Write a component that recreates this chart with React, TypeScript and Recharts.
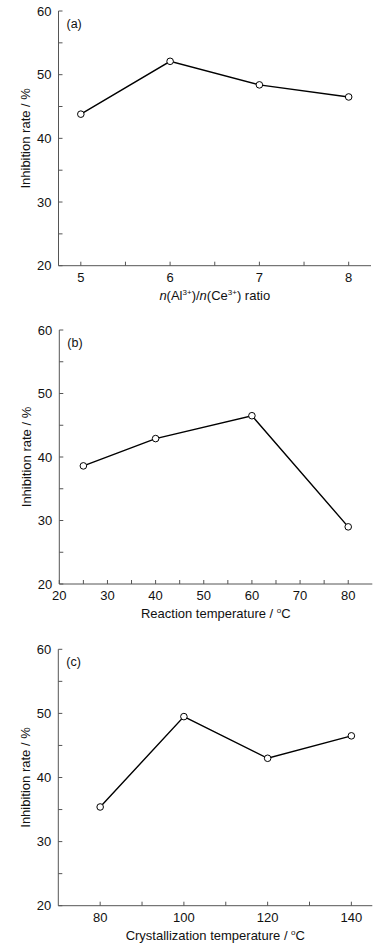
import { Line, LineChart, XAxis, YAxis } from 'recharts';

const ratioX = [5, 6, 7, 8];
const ratioRate = [43.8, 52.1, 48.4, 46.5];
const ratioTicks = [5, 5.5, 6, 6.5, 7, 7.5, 8];
const ratioLabels = [5, 6, 7, 8];

const reactionX = [25, 40, 60, 80];
const reactionRate = [38.6, 42.9, 46.5, 29.0];
const reactionTicks = [20, 25, 30, 35, 40, 45, 50, 55, 60, 65, 70, 75, 80];
const reactionLabels = [20, 30, 40, 50, 60, 70, 80];

const crystX = [80, 100, 120, 140];
const crystRate = [35.4, 49.5, 43.0, 46.5];
const crystTicks = [80, 90, 100, 110, 120, 130, 140];
const crystLabels = [80, 100, 120, 140];

const rateTicks = [20, 25, 30, 35, 40, 45, 50, 55, 60];
const rateLabels = [20, 30, 40, 50, 60];

const FONT = '"Liberation Sans", Arial, Helvetica, sans-serif';
const AXIS = '#555';

const XTitle = ({ viewBox, kind }: any) => {
  const cx = viewBox.x + viewBox.width / 2;
  const y = viewBox.y + 34;
  const sup = { fontSize: 8 };
  if (kind === 'ratio') {
    return (
      <text x={cx} y={y} textAnchor="middle" fontFamily={FONT} fontSize={13} fill="#111">
        <tspan fontStyle="italic">n</tspan>
        <tspan>(Al</tspan>
        <tspan dy={-5} {...sup}>3+</tspan>
        <tspan dy={5}>)/</tspan>
        <tspan fontStyle="italic">n</tspan>
        <tspan>(Ce</tspan>
        <tspan dy={-5} {...sup}>3+</tspan>
        <tspan dy={5}>) ratio</tspan>
      </text>
    );
  }
  return (
    <text x={cx} y={y} textAnchor="middle" fontFamily={FONT} fontSize={13} fill="#111">
      <tspan>{kind} temperature / </tspan>
      <tspan dy={-5} {...sup}>o</tspan>
      <tspan dy={5}>C</tspan>
    </text>
  );
};

const YTitle = ({ viewBox }: any) => {
  const x = viewBox.x + 7;
  const cy = viewBox.y + viewBox.height / 2;
  return (
    <text x={x} y={cy} textAnchor="middle" fontFamily={FONT} fontSize={13} fill="#111"
      transform={`rotate(-90 ${x} ${cy})`} dominantBaseline="central">
      Inhibition rate / %
    </text>
  );
};

type PanelProps = {
  top: number;
  height: number;
  margin: { top: number; right: number; left: number; bottom: number };
  xs: number[];
  ys: number[];
  domain: [number, number];
  ticks: number[];
  labels: number[];
  kind: string;
  tag: string;
};

const Panel = ({ top, height, margin, xs, ys, domain, ticks, labels, kind, tag }: PanelProps) => {
  const data = xs.map((x, i) => ({ x, rate: ys[i] }));
  const tickStyle = { fill: '#111', fontSize: 13, fontFamily: FONT };
  return (
    <div style={{ position: 'absolute', left: 0, top, width: 389, height }}>
      <LineChart width={389} height={height} data={data} margin={margin}>
        <XAxis
          dataKey="x"
          type="number"
          domain={domain}
          ticks={ticks}
          interval={0}
          allowDataOverflow
          tickFormatter={(v: number) => (labels.includes(v) ? String(v) : '')}
          tickSize={-4}
          tickMargin={11}
          height={40}
          stroke={AXIS}
          tick={tickStyle}
          label={<XTitle kind={kind} />}
        />
        <XAxis xAxisId="top" orientation="top" type="number" domain={domain} tick={false} tickLine={false} height={0} stroke={AXIS} />
        <YAxis
          type="number"
          domain={[20, 60]}
          ticks={rateTicks}
          interval={0}
          tickFormatter={(v: number) => (rateLabels.includes(v) ? String(v) : '')}
          tickSize={-4}
          tickMargin={11}
          width={40}
          stroke={AXIS}
          tick={tickStyle}
          label={<YTitle />}
        />
        <YAxis yAxisId="right" orientation="right" type="number" domain={[20, 60]} tick={false} tickLine={false} width={0} stroke={AXIS} />
        <Line
          dataKey="rate"
          stroke="#000"
          strokeWidth={1.4}
          dot={{ r: 3.3, fill: '#fff', stroke: '#000', strokeWidth: 1 }}
          isAnimationActive={false}
        />
      </LineChart>
      <div style={{ position: 'absolute', left: margin.left + 48, top: margin.top + 7, fontFamily: FONT, fontSize: 12.5, lineHeight: '12px', color: '#111' }}>
        {tag}
      </div>
    </div>
  );
};

export default function App() {
  return (
    <div style={{ position: 'absolute', left: 0, top: 0, width: 389, height: 952, background: '#fff' }}>
      <Panel top={0} height={310} margin={{ top: 11, right: 18, left: 18.5, bottom: 4.3 }}
        xs={ratioX} ys={ratioRate} domain={[4.75, 8.25]} ticks={ratioTicks} labels={ratioLabels} kind="ratio" tag="(a)" />
      <Panel top={310} height={320} margin={{ top: 20, right: 16.7, left: 19.3, bottom: 6 }}
        xs={reactionX} ys={reactionRate} domain={[20, 85]} ticks={reactionTicks} labels={reactionLabels} kind="Reaction" tag="(b)" />
      <Panel top={630} height={322} margin={{ top: 19.3, right: 16.7, left: 18.3, bottom: 6.3 }}
        xs={crystX} ys={crystRate} domain={[70, 145]} ticks={crystTicks} labels={crystLabels} kind="Crystallization" tag="(c)" />
    </div>
  );
}
